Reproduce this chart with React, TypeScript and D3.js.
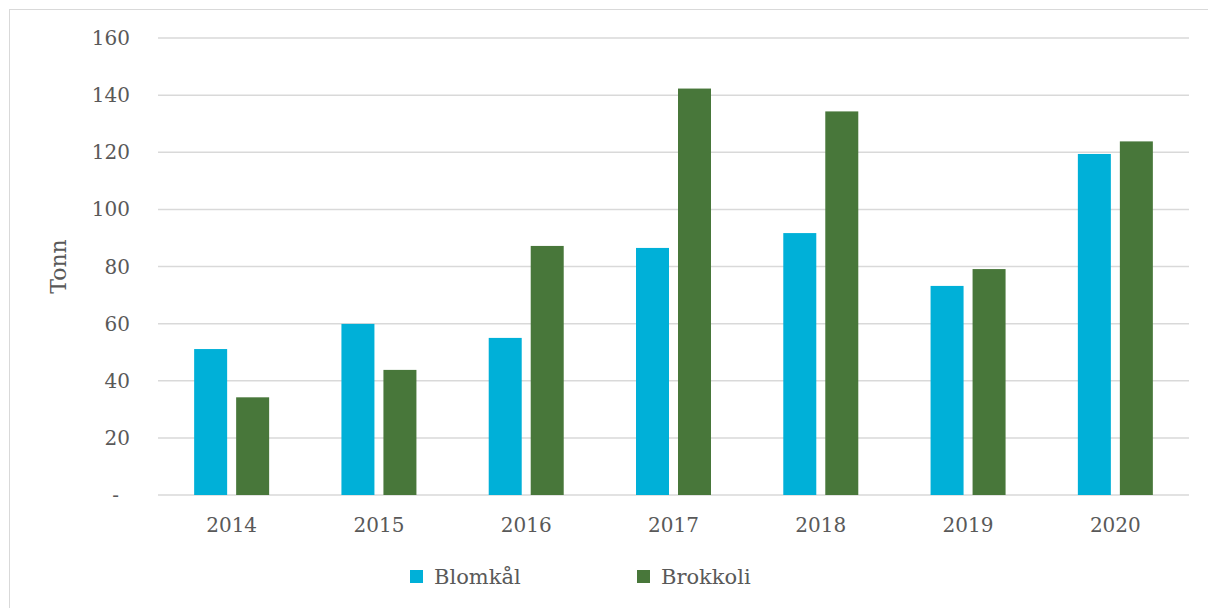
import React from "react";
import * as d3 from "d3";

const years = ["2014", "2015", "2016", "2017", "2018", "2019", "2020"];
const blomkal = [51.1, 59.9, 55.0, 86.5, 91.7, 73.2, 119.4];
const brokkoli = [34.2, 43.8, 87.2, 142.3, 134.3, 79.1, 123.8];
const seriesNames = ["Blomkål", "Brokkoli"];
const seriesColors = ["#00B0D8", "#48773A"];
const yTicks = [0, 20, 40, 60, 80, 100, 120, 140, 160];
const yLabel = "Tonn";

const W = 1208;
const H = 608;
const left = 158;
const right = 1189;
const top = 38;
const bottom = 495;
const FONT = "'DejaVu Serif', Georgia, serif";
const TEXT = "#595959";

export default function App() {
  const x = d3.scaleBand<string>().domain(years).range([left, right]).paddingInner(0).paddingOuter(0);
  const y = d3.scaleLinear().domain([0, 160]).range([bottom, top]);
  const barW = 33;
  const gap = 9;
  const series = [blomkal, brokkoli];

  return (
    <svg width={W} height={H} style={{ position: "absolute", left: 0, top: 0, background: "#fff" }}>
      <rect x={9.5} y={9.5} width={1220} height={620} fill="#fff" stroke="#d9d9d9" strokeWidth={1} />
      {yTicks.map((t) => (
        <g key={t}>
          <line x1={left} x2={right} y1={y(t)} y2={y(t)} stroke="#d9d9d9" strokeWidth={1.5} />
          <text x={t === 0 ? 119 : 130} y={y(t)} dy="0.35em" textAnchor="end" fontFamily={FONT} fontSize={20} fill={TEXT}>
            {t === 0 ? "-" : t}
          </text>
        </g>
      ))}
      {years.map((yr, i) => {
        const c = (x(yr) as number) + x.bandwidth() / 2;
        return (
          <g key={yr}>
            {series.map((s, k) => {
              const bx = k === 0 ? c - gap / 2 - barW : c + gap / 2;
              return (
                <rect
                  key={k}
                  x={bx}
                  y={y(s[i])}
                  width={barW}
                  height={y(0) - y(s[i])}
                  fill={seriesColors[k]}
                />
              );
            })}
            <text x={c} y={532} textAnchor="middle" fontFamily={FONT} fontSize={20} fill={TEXT}>
              {yr}
            </text>
          </g>
        );
      })}
      <text
        transform={`translate(66, ${(top + bottom) / 2}) rotate(-90)`}
        textAnchor="middle"
        fontFamily={FONT}
        fontSize={22}
        fill={TEXT}
      >
        {yLabel}
      </text>
      {seriesNames.map((n, k) => {
        const lx = k === 0 ? 410 : 637;
        return (
          <g key={n}>
            <rect x={lx} y={570} width={13} height={13} fill={seriesColors[k]} />
            <text x={lx + 24} y={584} fontFamily={FONT} fontSize={21} fill={TEXT}>
              {n}
            </text>
          </g>
        );
      })}
    </svg>
  );
}
